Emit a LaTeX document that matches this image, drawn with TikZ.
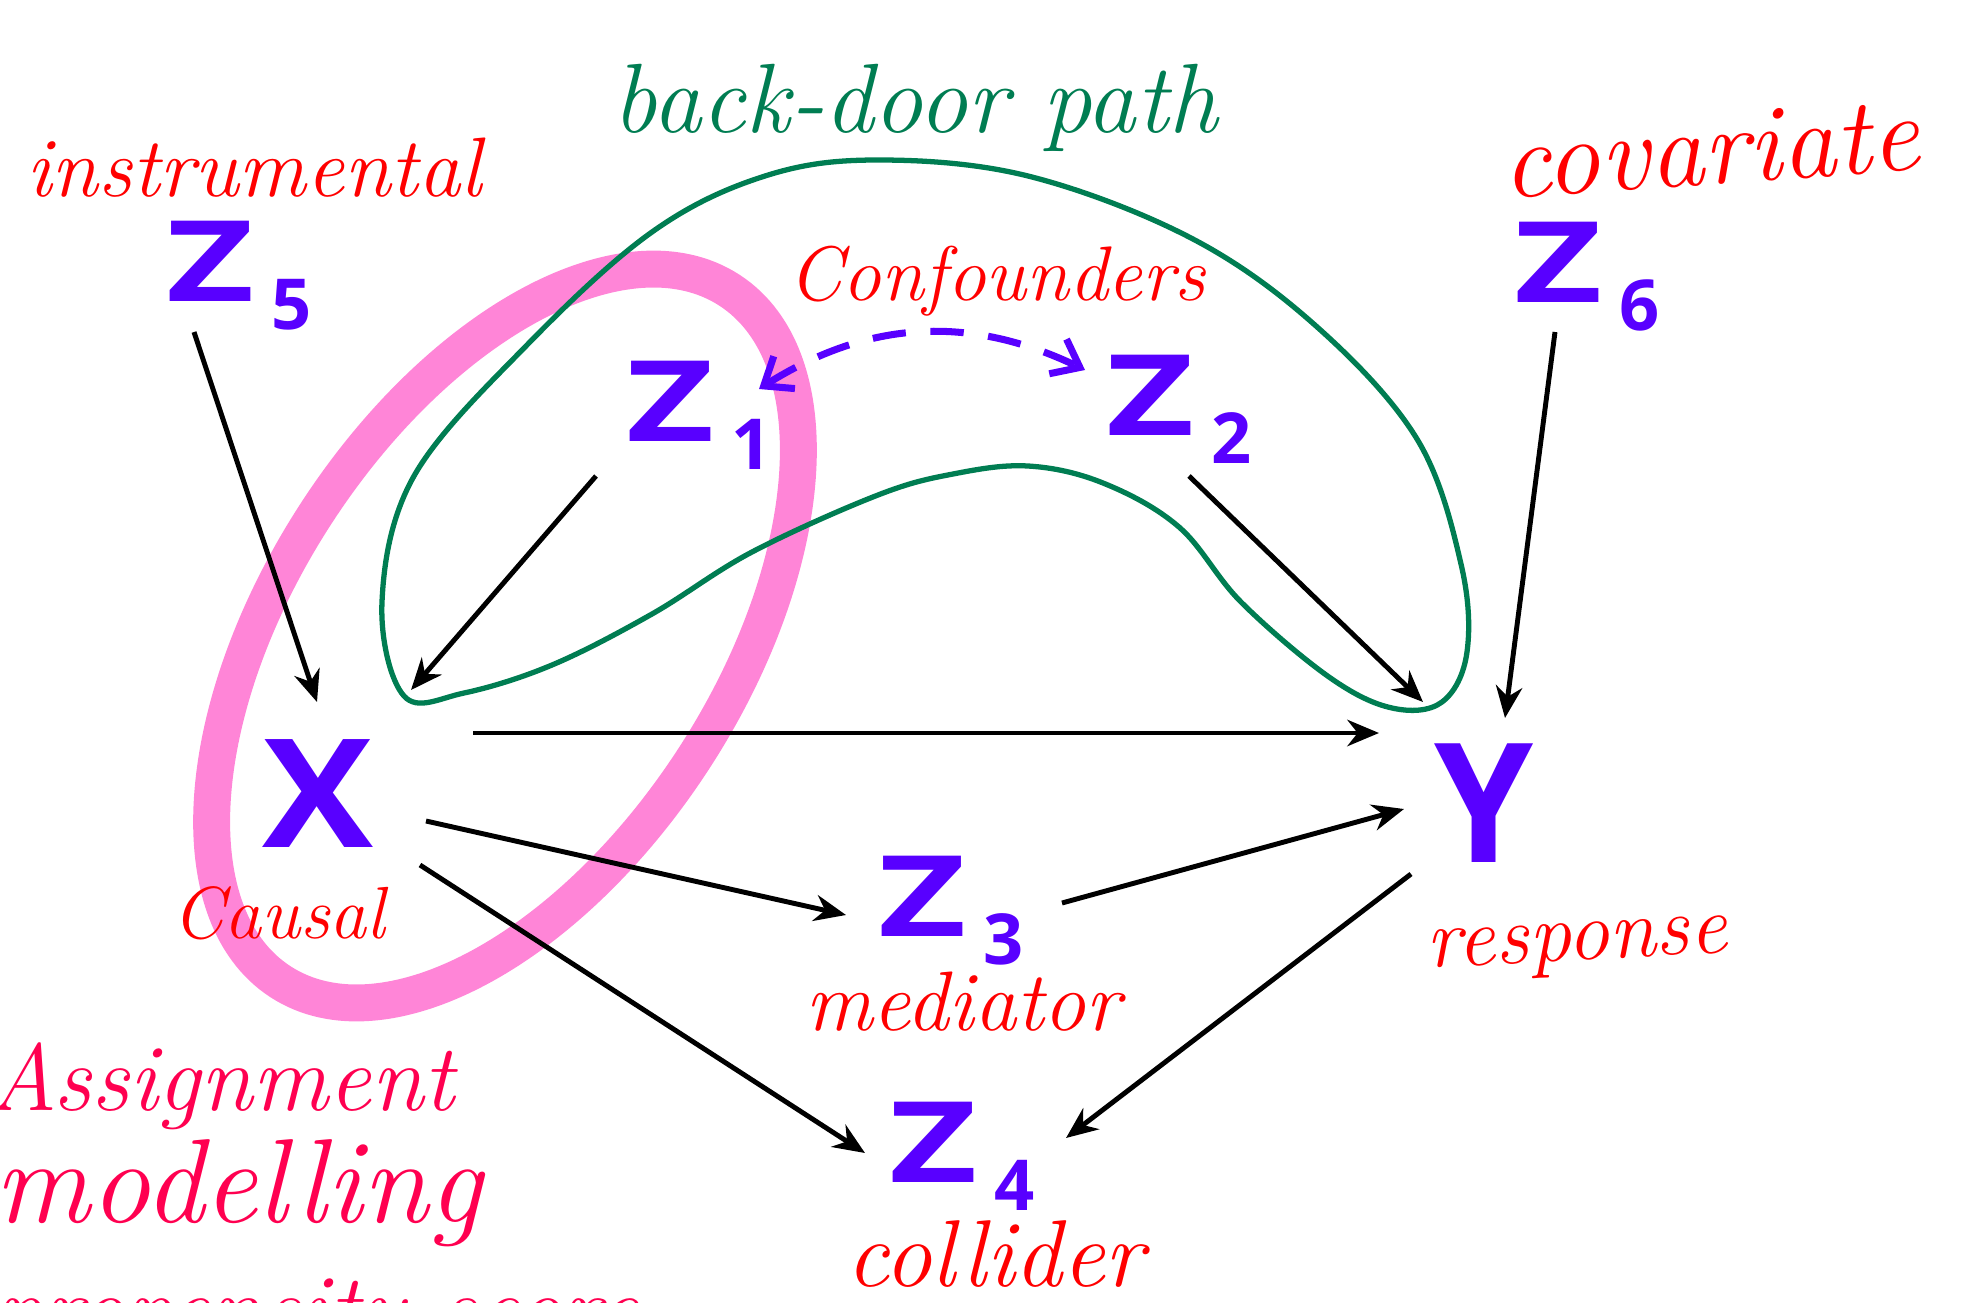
\documentclass[tikz,border=0pt]{standalone}
\usepackage{fontspec}
\usepackage{graphicx}
\setsansfont{Open Sans}
\usetikzlibrary{calc,arrows.meta,bending}
\definecolor{varblue}{RGB}{88,0,255}
\definecolor{labelred}{RGB}{255,0,0}
\definecolor{pathgreen}{RGB}{0,125,82}
\definecolor{markpink}{RGB}{255,133,215}
\definecolor{notecrimson}{RGB}{255,0,80}
\newcommand{\zvar}[1]{%
    % #1 = index written below the Z
    {\fontsize{32}{32}\selectfont\bfseries\scalebox{1.35}[1]{Z}}\hspace{5pt}%
    \raisebox{-8pt}{\fontsize{20}{20}\selectfont\bfseries #1}}

\begin{document}
\begin{tikzpicture}[x=0.01cm,y=-0.01cm,
    var/.style={text=varblue,font=\sffamily,inner sep=0pt},
    bigvar/.style={text=varblue,font=\sffamily\bfseries\fontsize{43}{43}\selectfont,inner sep=0pt},
    tag/.style={text=labelred,anchor=base,inner sep=0pt},
    edge/.style={line width=1.4pt,-{Stealth[length=9pt,width=7.5pt]}}]

\useasboundingbox (0,0) rectangle (1966,1303);
\clip (0,0) rectangle (1966,1303);

% Highlighter ring round the treatment
\draw[markpink,line width=10.5pt,rotate around={57:(505,636)}]
    (505,636) ellipse [x radius=4.12cm,y radius=2.25cm];

% Back-door path loop
\draw[pathgreen,line width=1.5pt] plot[smooth cycle,tension=0.6] coordinates {
    (404,696) (382,602) (414,476) (527,345) (652,232) (765,176) (878,160)
    (1028,176) (1191,238) (1316,326) (1417,439) (1461,564) (1467,652)
    (1442,702) (1392,708) (1329,677) (1241,602) (1179,527) (1103,483)
    (1028,466) (953,474) (878,495) (752,552) (652,614) (552,665) (464,693)};

% Variables
\node[var] (z5) at (239,276) {\zvar{5}};
\node[var] (z6) at (1587,277) {\zvar{6}};
\node[var] (z1) at (699,415) {\zvar{1}};
\node[var] (z2) at (1179,409) {\zvar{2}};
\node[var] (z3) at (951,911) {\zvar{3}};
\node[var] (z4) at (962,1156) {\zvar{4}};
\node[bigvar] (x) at (318,794) {\scalebox{1.1}[1]{X}};
\node[bigvar] (y) at (1484,803) {\scalebox{1.05}[1.1]{Y}};

% Role labels
\node[tag,font=\itshape\fontsize{24}{24}\selectfont] (instr) at (254,196) {instrumental};
\node[tag,font=\itshape\fontsize{31}{31}\selectfont,rotate=4] (covar) at (1713,184) {covariate};
\node[tag,font=\itshape\fontsize{22}{22}\selectfont] (confd) at (997,300) {Confounders};
\node[tag,font=\itshape\fontsize{21}{21}\selectfont] (causal) at (279,938) {Causal};
\node[tag,font=\itshape\fontsize{24}{24}\selectfont] (medtr) at (963,1030) {mediator};
\node[tag,font=\itshape\fontsize{24}{24}\selectfont,rotate=3] (resp) at (1578,960) {response};
\node[tag,font=\itshape\fontsize{27}{27}\selectfont] (colld) at (995,1286) {collider};
\node[tag,text=pathgreen,font=\itshape\fontsize{28}{28}\selectfont] (bdoor) at (915,132) {back-door path};

% Note in the corner
\node[tag,anchor=base west,text=notecrimson,font=\itshape\fontsize{27}{27}\selectfont] (assign) at (-12,1110) {Assignment};
\node[tag,anchor=base west,text=notecrimson,font=\itshape\fontsize{34}{34}\selectfont] (model) at (-6,1222) {modelling};
\node[tag,anchor=base west,text=notecrimson,font=\itshape\fontsize{27}{27}\selectfont] (pscore) at (-5,1340) {propensity score};

% Causal arrows
\draw[edge] ($(z5)+(-45,56)$) -- ($(x)+(-1,-92)$);
\draw[edge] ($(z1)+(-103,61)$) -- ($(x)+(93,-104)$);
\draw[edge] ($(z2)+(10,67)$) -- ($(y)+(-61,-101)$);
\draw[edge] ($(z6)+(-32,55)$) -- ($(y)+(21,-85)$);
\draw[edge] ($(x)+(155,-61)$) -- ($(y)+(-105,-70)$);
\draw[edge] ($(x)+(108,27)$) -- ($(z3)+(-105,4)$);
\draw[edge] ($(z3)+(111,-8)$) -- ($(y)+(-80,6)$);
\draw[edge] ($(x)+(102,71)$) -- ($(z4)+(-97,-3)$);
\draw[edge] ($(y)+(-73,71)$) -- ($(z4)+(104,-18)$);

% Confounders linked both ways
\draw[varblue,line width=2pt,dash pattern=on 9.5pt off 7pt,
    {Straight Barb[length=7pt,width=11pt]}-{Straight Barb[length=7pt,width=11pt]}]
    ($(z1)+(60,-26)$) to[bend left=30] ($(z2)+(-94,-39)$);

\end{tikzpicture}
\end{document}
